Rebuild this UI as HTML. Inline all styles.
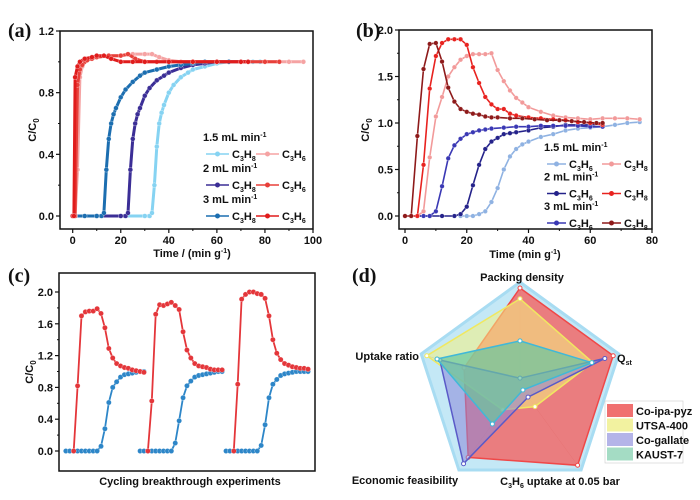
<!DOCTYPE html>
<html><head><meta charset="utf-8"><style>
html,body{margin:0;padding:0;background:#fff}
svg{display:block;font-family:"Liberation Sans",Arial,sans-serif}
.t{font-size:11px;font-weight:bold;fill:#111}
.pl{font-family:"Liberation Serif",serif;font-size:20px;font-weight:bold;fill:#111}
</style></head><body>
<svg id="s" width="700" height="500" viewBox="0 0 700 500"></svg>
<script>
// ---------- Panel (a) data ----------
const aX_b15=[0,10,20,30,32,33,34,35,36,37,38,40,42,45,48,50,55,60,65,70,75,78];
const aY_b15=[0,0,0,0,0,0.02,0.2,0.45,0.6,0.67,0.72,0.8,0.85,0.9,0.93,0.95,0.97,0.99,1.0,1.0,1.0,1.0];
const aX_b2=[0,10,20,22,23,24,25,26,27,28,30,32,35,38,40,45,50,55,60,65,70,73];
const aY_b2=[0,0,0,0,0.02,0.3,0.5,0.6,0.66,0.7,0.78,0.83,0.88,0.91,0.93,0.96,0.98,0.99,1.0,1.0,1.0,1.0];
const aX_b3=[0,5,10,12,13,14,15,16,17,18,20,22,25,28,30,35,40,45,50,55,60,65,70,73];
const aY_b3=[0,0,0,0,0.02,0.3,0.5,0.6,0.66,0.7,0.77,0.82,0.87,0.91,0.93,0.95,0.97,0.98,0.99,1.0,1.0,1.0,1.0,1.0];
const aX_r15=[0,1,2,3,4,5,7,10,15,20,25,30,33,36,40,45,50,60,70,80,90,96];
const aY_r15=[0,0,0.3,0.9,0.97,1.0,1.02,1.03,1.04,1.04,1.05,1.05,1.05,1.03,1.01,1.0,1.0,1.0,1.0,1.0,1.0,1.0];
const aX_r2=[0,1,2,3,4,6,8,10,15,20,23,26,30,35,40,50,60,70,80,86];
const aY_r2=[0,0,0.85,0.95,0.98,1.01,1.02,1.03,1.04,1.04,1.05,1.02,1.0,1.0,1.0,1.0,1.0,1.0,1.0,1.0];
const aX_r3=[0,0.5,1,2,3,5,8,10,13,16,20,25,30,40,50,60,70,73];
const aY_r3=[0,0,0.9,0.97,1.0,1.02,1.03,1.04,1.04,1.02,1.0,1.0,1.0,1.0,1.0,1.0,1.0,1.0];
const aXTicks=[0,20,40,60,80,100];
const aYTicks=[0.0,0.4,0.8,1.2];
// ---------- Panel (b) data ----------
const bX_dr=[0,2,4,6,8,10,12,14,16,18,20,22,24,26,28,30,34,38,42,46,50,54,58,62,64];
const bY_dr=[0,0,0.86,1.58,1.85,1.86,1.66,1.38,1.23,1.15,1.12,1.10,1.09,1.07,1.06,1.06,1.05,1.05,1.04,1.03,1.03,1.02,1.01,1.0,1.0];
const bX_r=[0,2,4,6,8,10,12,14,16,18,20,22,24,26,28,30,32,34,36,40,44,48,52,56,60,64];
const bY_r=[0,0,0,0.55,1.37,1.72,1.86,1.9,1.9,1.9,1.84,1.6,1.43,1.28,1.2,1.15,1.15,1.1,1.08,1.06,1.05,1.04,1.03,1.01,1.0,0.98];
const bX_p=[0,2,4,6,8,10,12,14,16,18,20,22,24,26,28,30,32,34,36,38,40,44,48,52,56,60,64,68,72,76];
const bY_p=[0,0,0,0.05,0.63,1.07,1.28,1.5,1.6,1.68,1.72,1.74,1.74,1.74,1.75,1.57,1.45,1.35,1.27,1.22,1.17,1.12,1.08,1.06,1.05,1.04,1.05,1.05,1.05,1.04];
const bX_b3=[0,2,4,6,8,10,12,14,16,18,20,22,24,26,28,32,36,40,44,48,52,56,60,64];
const bY_b3=[0,0,0,0,0,0.05,0.32,0.62,0.76,0.83,0.88,0.9,0.92,0.93,0.94,0.95,0.96,0.96,0.97,0.97,0.97,0.97,0.96,0.96];
const bX_b2=[4,8,12,16,18,20,22,24,26,28,30,32,34,36,40,44,48,52,56,60,64];
const bY_b2=[0,0,0,0,0.02,0.1,0.33,0.55,0.72,0.8,0.84,0.88,0.89,0.9,0.92,0.95,0.96,0.98,0.98,0.98,0.99];
const bX_lb=[18,20,22,24,26,28,30,32,34,36,38,40,44,48,52,56,60,64,68,72,76];
const bY_lb=[0,0,0,0.02,0.05,0.15,0.3,0.5,0.64,0.72,0.77,0.8,0.85,0.88,0.92,0.94,0.95,0.96,0.98,1.0,1.01];
const bXTicks=[0,20,40,60,80];
const bYTicks=[0.0,0.5,1.0,1.5,2.0];
// ---------- Panel (c) data (x = sample index across the run) ----------
const cOffsets=[1.5,20.5,42.5];
const cRed1=[null,null,0,0.82,1.70,1.75,1.76,1.76,1.79,1.73,1.55,1.29,1.17,1.1,1.07,1.05,1.04,1.02,1.01,1.0,0.99];
const cBlue1=[0,0,0,0,0,0,0,0,0,0.06,0.28,0.61,0.8,0.87,0.93,0.96,0.97,0.98,0.99,1.0,1.0];
const cRed2=[null,null,0,0.63,1.72,1.84,1.83,1.85,1.87,1.83,1.78,1.5,1.27,1.17,1.1,1.07,1.06,1.05,1.03,1.02,1.02,1.02];
const cBlue2=[0,0,0,0,0,0,0,0,0,0.1,0.38,0.67,0.82,0.88,0.93,0.95,0.96,0.97,0.98,0.99,1.0,1.0];
const cRed3=[null,null,0,0.84,1.91,1.97,2.0,2.0,1.98,1.97,1.92,1.7,1.4,1.23,1.15,1.1,1.08,1.06,1.05,1.04,1.04,1.03];
const cBlue3=[0,0,0,0,0,0,0,0,0,0.07,0.33,0.67,0.84,0.9,0.95,0.97,0.98,0.99,1.0,1.0,1.0,1.0];
const cYTicks=[0.0,0.4,0.8,1.2,1.6,2.0];
// ---------- Panel (d) data ----------
const dAxes=["Packing density","Qst","C3H6 uptake at 0.05 bar","Economic feasibility","Uptake ratio"];
const dCoIpa=[1.0,1.0,1.0,0.9,0.6];
const dUTSA=[0.89,0.78,0.26,0.3,1.0];
const dCoGal=[0.08,0.91,0.14,0.98,0.86];
const dKAUST=[0.46,0.77,0.05,0.48,0.89];

const NS="http://www.w3.org/2000/svg";
const svg=document.getElementById('s');
function el(tag,attrs,parent,text){const e=document.createElementNS(NS,tag);for(const k in attrs)e.setAttribute(k,attrs[k]);if(text!==undefined)e.textContent=text;(parent||svg).appendChild(e);return e;}
function lin(d0,d1,r0,r1){return v=>r0+(v-d0)*(r1-r0)/(d1-d0);}

function axes(g,x0,y0,x1,y1,ys,yTicks,yFmt,xs,xTicks,minorY){
  const f=el('rect',{x:x0,y:y0,width:x1-x0,height:y1-y0,fill:'none',stroke:'#111','stroke-width':1.5},g);
  
  yTicks.forEach(v=>{const y=ys(v);el('line',{x1:x0-4,x2:x0,y1:y,y2:y,stroke:'#111','stroke-width':1.2},g);
    const t=el('text',{x:x0-6,y:y+4,'text-anchor':'end',class:'t'},g,yFmt(v));
    });
  if(minorY){for(let i=0;i<yTicks.length-1;i++){const y=ys((yTicks[i]+yTicks[i+1])/2);el('line',{x1:x0-2,x2:x0,y1:y,y2:y,stroke:'#111'},g);}}
  if(xs){xTicks.forEach(v=>{const x=xs(v);el('line',{x1:x,x2:x,y1:y1,y2:y1+4,stroke:'#111','stroke-width':1.2},g);
    const t=el('text',{x:x,y:y1+15,'text-anchor':'middle',class:'t'},g,String(v));
    });
    for(let i=0;i<xTicks.length-1;i++){const x=xs((xTicks[i]+xTicks[i+1])/2);el('line',{x1:x,x2:x,y1:y1,y2:y1+2,stroke:'#111'},g);}}
}
function series(g,name,X,Y,xs,ys,col,r,lw){
  const s=el('g',{},g);
  let pts=[];X.forEach((x,i)=>{if(Y[i]!==null)pts.push(xs(x).toFixed(1)+','+ys(Y[i]).toFixed(1));});
  el('polyline',{points:pts.join(' '),fill:'none',stroke:col,'stroke-width':lw||1.6},s);
  X.forEach((x,i)=>{if(Y[i]===null)return;el('circle',{cx:xs(x),cy:ys(Y[i]),r:r||2.3,fill:col,stroke:'#fff','stroke-width':0.5,'stroke-opacity':0.6},s);});
}
function yTitle(g,x,y){const t=el('text',{transform:`translate(${x},${y}) rotate(-90)`,'text-anchor':'middle',class:'t'},g);
  
  t.appendChild(document.createTextNode('C/C'));el('tspan',{'font-size':'8px',dy:3},t,'0');}
function sub(t,a,b){el('tspan',{},t,'C');el('tspan',{'font-size':'7px',dy:3},t,a);el('tspan',{dy:-3},t,'H');el('tspan',{'font-size':'7px',dy:3},t,b);}
function legend(g,x,y,hdr,rows,step,seg){
  rows.forEach((r,i)=>{const yy=y+i*step;
    const h=el('text',{x:x,y:yy,class:'t'},g);
    h.appendChild(document.createTextNode(hdr[i]+' mL min'));el('tspan',{'font-size':'7px',dy:-4},h,'-1');
    const ry=yy+13;
    [[r[0],r[1],0],[r[2],r[3],1]].forEach(([col,lab,j])=>{
      const lx=x+3+j*hdr.off;
      const e=el('g',{},g);
      el('line',{x1:lx,x2:lx+seg,y1:ry,y2:ry,stroke:col,'stroke-width':1.6},e);
      el('circle',{cx:lx+seg/2,cy:ry,r:2.5,fill:col},e);
      const t=el('text',{x:lx+seg+3,y:ry+4,class:'t'},e);sub(t,'3',lab);});
  });
}
function panelLabel(x,y,s){const t=el('text',{x:x,y:y,class:'pl'},svg,s);}

// ---- Panel (a)
(function(){
  const g=el('g',{});
  const xs=lin(0,100,72.7,313),ys=lin(0,1.2,216,31);
  axes(g,60,31,313,229,ys,aYTicks,v=>v.toFixed(1),xs,aXTicks,true);
  series(g,'series-c3h8-1.5',aX_b15,aY_b15,xs,ys,'#86d3f2',2.4,3);
  series(g,'series-c3h8-2',aX_b2,aY_b2,xs,ys,'#3b2e96',2.4,3);
  series(g,'series-c3h8-3',aX_b3,aY_b3,xs,ys,'#1c6eb0',2.4,3);
  series(g,'series-c3h6-1.5',aX_r15,aY_r15,xs,ys,'#f5a3a3',2.4,3);
  series(g,'series-c3h6-2',aX_r2,aY_r2,xs,ys,'#e8403a',2.4,3);
  series(g,'series-c3h6-3',aX_r3,aY_r3,xs,ys,'#e01c1c',2.4,3);
  yTitle(g,36,130);
  const xt=el('text',{x:192,y:257,'text-anchor':'middle',class:'t'},g);
  xt.appendChild(document.createTextNode('Time / (min g'));el('tspan',{'font-size':'7px',dy:-4},xt,'-1');el('tspan',{dy:4},xt,')');
  const hdr=['1.5','2','3'];hdr.off=50;
  legend(g,203,141,hdr,[['#86d3f2','8','#f5a3a3','6'],['#3b2e96','8','#e8403a','6'],['#1c6eb0','8','#e01c1c','6']],31,23);
})();
panelLabel(8,37,'(a)');

// ---- Panel (b)
(function(){
  const g=el('g',{});
  const xs=lin(0,80,405,652),ys=lin(0,2,216,30);
  axes(g,399,30,652,229,ys,bYTicks,v=>v.toFixed(1),xs,bXTicks,true);
  series(g,'series-c3h6-1.5',bX_lb,bY_lb,xs,ys,'#8fb2e2');
  series(g,'series-c3h6-2',bX_b2,bY_b2,xs,ys,'#24228a');
  series(g,'series-c3h6-3',bX_b3,bY_b3,xs,ys,'#3a38b4');
  series(g,'series-c3h8-1.5',bX_p,bY_p,xs,ys,'#f29a9a');
  series(g,'series-c3h8-2',bX_r,bY_r,xs,ys,'#e8221f');
  series(g,'series-c3h8-3',bX_dr,bY_dr,xs,ys,'#8e1a1a');
  yTitle(g,369,130);
  const xt=el('text',{x:525,y:258,'text-anchor':'middle',class:'t'},g);
  xt.appendChild(document.createTextNode('Time (min g'));el('tspan',{'font-size':'7px',dy:-4},xt,'-1');el('tspan',{dy:4},xt,')');
  const hdr=['1.5','2','3'];hdr.off=55;
  legend(g,544,151,hdr,[['#8fb2e2','6','#f29a9a','8'],['#24228a','6','#e8221f','8'],['#3a38b4','6','#8e1a1a','8']],29.5,19);
})();
panelLabel(356,37,'(b)');

// ---- Panel (c)
(function(){
  const g=el('g',{});
  const xs=lin(0,64,60,310),ys=lin(0,2,451,292);
  axes(g,59,273,315,471,ys,cYTicks,v=>v.toFixed(1),null,null,true);
  [[cRed1,cBlue1],[cRed2,cBlue2],[cRed3,cBlue3]].forEach(([R,B],c)=>{
    const XR=R.map((_,i)=>cOffsets[c]+i),XB=B.map((_,i)=>cOffsets[c]+i);
    series(g,'cycle-'+(c+1)+'-c3h6',XB,B,xs,ys,'#2d86c8',2.6,1.8);
    series(g,'cycle-'+(c+1)+'-c3h8',XR,R,xs,ys,'#e4363a',2.6,1.8);
  });
  yTitle(g,33,372);
  const xt=el('text',{x:190,y:485,'text-anchor':'middle',class:'t'},g,'Cycling breakthrough experiments');
  
})();
panelLabel(8,282,'(c)');

// ---- Panel (d) radar
(function(){
  const g=el('g',{});
  const cx=520,cy=386,R=98;
  const ang=i=>(-90+72*i)*Math.PI/180;
  const pt=(i,v)=>[cx+R*v*Math.cos(ang(i)),cy+R*v*Math.sin(ang(i))];
  const poly=vals=>vals.map((v,i)=>pt(i,v).map(n=>n.toFixed(1)).join(',')).join(' ');
  const bg=el('polygon',{points:poly([1.06,1.06,1.06,1.06,1.06]),fill:'#c4e8f6',stroke:'#a8dcf2','stroke-width':3},g);
  
  for(let i=0;i<5;i++){const p=pt(i,1);el('line',{x1:cx,y1:cy,x2:p[0],y2:p[1],stroke:'#aaa','stroke-width':0.5},g);}
  const sets=[['radar-co-ipa-pyz',dCoIpa,'#f16a6a',0.85,'#f04848'],['radar-utsa-400',dUTSA,'#f4f080',0.55,'#f0e860'],
    ['radar-co-gallate',dCoGal,'#8a86d8',0.55,'#5a5ac8'],['radar-kaust-7',dKAUST,'#68c8a0',0.7,'#40b8d8']];
  sets.forEach(([n,vals,fill,op,st])=>{
    const s=el('g',{},g);
    el('polygon',{points:poly(vals),fill:fill,'fill-opacity':op,stroke:st,'stroke-width':1.5},s);
    vals.forEach((v,i)=>{const p=pt(i,v);el('circle',{cx:p[0],cy:p[1],r:2,fill:'#fff',stroke:st,'stroke-width':1},s);});
  });
  const labs=[[522,281,'middle'],[617,362,'start'],[560,485,'middle'],[405,484,'middle'],[419,360,'end']];
  dAxes.forEach((a,i)=>{const t=el('text',{x:labs[i][0],y:labs[i][1],'text-anchor':labs[i][2],class:'t'},g);
    
    if(a==='Qst'){t.appendChild(document.createTextNode('Q'));el('tspan',{'font-size':'7px',dy:3},t,'st');}
    else if(a.startsWith('C3H6')){sub(t,'3','6');el('tspan',{dy:-3},t,' uptake at 0.05 bar');}
    else t.textContent=a;});
  const lg=el('g',{},g);
  el('rect',{x:605,y:401,width:78,height:62,fill:'#fff',stroke:'#ccc','stroke-width':0.6},lg);
  [['Co-ipa-pyz','#f07070'],['UTSA-400','#f2f2a0'],['Co-gallate','#b4b4e8'],['KAUST-7','#a4dcc4']].forEach(([n,c],i)=>{
    const e=el('g',{},lg);
    el('rect',{x:607,y:404+i*14.5,width:26,height:13,fill:c},e);
    el('text',{x:636,y:415+i*14.5,class:'t','font-size':'10px'},e,n);});
})();
panelLabel(352,282,'(d)');
</script>
</body></html>
